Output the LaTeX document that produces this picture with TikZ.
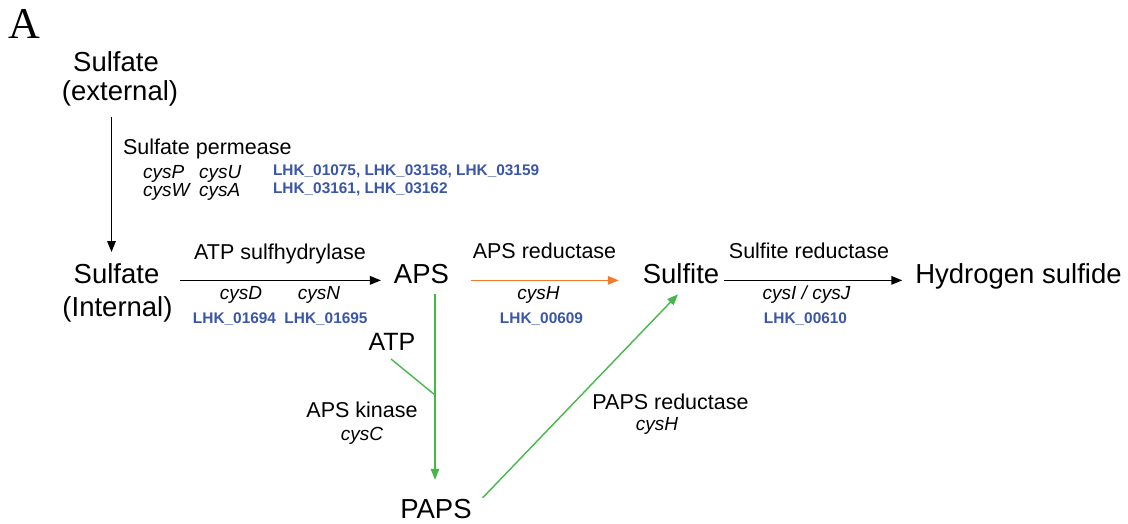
\documentclass[tikz,border=0pt]{standalone}
\usepackage{fontspec}
\setmainfont{Liberation Sans}
\newfontfamily\serifA{Liberation Serif}
\usetikzlibrary{arrows.meta,calc}
\definecolor{lhkblue}{HTML}{3A56A8}
\definecolor{pgreen}{HTML}{45B84A}
\definecolor{porange}{HTML}{F37A2A}
\tikzset{
  every node/.style={inner sep=0pt, outer sep=0pt},
  big/.style={font=\fontsize{27.5}{30}\selectfont, anchor=base},
  mid/.style={font=\fontsize{25}{28}\selectfont, anchor=base},
  enz/.style={font=\fontsize{21.5}{24}\selectfont, anchor=base},
  gene/.style={font=\fontsize{19}{22}\selectfont\itshape, anchor=base},
  lhk/.style={font=\fontsize{15.4}{18}\selectfont\bfseries, text=lhkblue, anchor=base},
  tip/.style={-{Triangle[length=11pt,width=8.5pt]}},
  blackarr/.style={tip, line width=1.5pt, draw=black},
  greenarr/.style={tip, line width=1.4pt, draw=pgreen, fill=pgreen},
  orangearr/.style={tip, line width=1.5pt, draw=porange, fill=porange}
}
\begin{document}
\begin{tikzpicture}[x=1pt,y=-1pt]
\useasboundingbox (0,0) rectangle (1128,523);
% panel letter
\node[anchor=base west, font=\fontsize{44}{48}\selectfont\serifA] (lbl) at (9,38.5) {A};
% metabolites
\node[big] (sext) at (116,71.5) {Sulfate};
\node[big] (sextb) at (120,100) {(external)};
\node[big] (sint) at (116.5,283) {Sulfate};
\node[big] (sintb) at (117.5,316.5) {(Internal)};
\node[big] (aps) at (421.5,283) {APS};
\node[big] (sulfite) at (681,283) {Sulfite};
\node[big] (h2s) at (1018.5,283) {Hydrogen sulfide};
\node[mid] (atp) at (392,350) {ATP};
\node[big] (paps) at (436,518) {PAPS};
% enzymes
\node[enz, anchor=base west] (perm) at (123,154) {Sulfate permease};
\node[gene, anchor=base west] (cysP) at (143,178) {cysP};
\node[gene, anchor=base west] (cysU) at (199,178) {cysU};
\node[gene, anchor=base west] (cysW) at (143,196) {cysW};
\node[gene, anchor=base west] (cysA) at (199,196) {cysA};
\node[lhk, anchor=base west] (lhkA) at (273,175) {LHK\_01075, LHK\_03158, LHK\_03159};
\node[lhk, anchor=base west] (lhkB) at (273,193) {LHK\_03161, LHK\_03162};

\node[enz] (atps) at (280,259) {ATP sulfhydrylase};
\node[gene] (cysD) at (241,299) {cysD};
\node[gene] (cysN) at (319,299) {cysN};
\node[lhk] (lhkD) at (234.5,323) {LHK\_01694};
\node[lhk] (lhkN) at (326,323) {LHK\_01695};

\node[enz] (apsr) at (544.5,258) {APS reductase};
\node[gene] (cysH) at (538.5,299) {cysH};
\node[lhk] (lhkH) at (541.5,323) {LHK\_00609};

\node[enz] (sulfr) at (809,258) {Sulfite reductase};
\node[gene] (cysIJ) at (806.5,299) {cysI / cysJ};
\node[lhk] (lhkIJ) at (805.5,323) {LHK\_00610};

\node[enz] (apsk) at (362,417) {APS kinase};
\node[gene] (cysC) at (362,440) {cysC};

\node[enz] (papsr) at (670.5,409) {PAPS reductase};
\node[gene] (cysH2) at (657,430) {cysH};

% connectors
\draw[blackarr] ([xshift=-8.5pt,yshift=-11pt]sextb.south) -- ([xshift=-5pt,yshift=11pt]sint.north);
\draw[blackarr] ([xshift=20.7pt]sint.mid east) -- ([xshift=-13pt]aps.mid west);
\draw[orangearr] ([xshift=22pt]aps.mid east) -- ([xshift=-24pt]sulfite.mid west);
\draw[blackarr] ([xshift=5pt]sulfite.mid east) -- ([xshift=-13pt]h2s.mid west);
\draw[greenarr] ([xshift=13.5pt,yshift=-11pt]aps.south) -- ([xshift=-1pt,yshift=19pt]paps.north);
\coordinate (kin) at (435,395);
\draw[pgreen, line width=1.4pt] ([xshift=-1pt,yshift=-9pt]atp.south) -- (kin);
\draw[greenarr] ([xshift=11pt,yshift=1pt]paps.north east) -- ([xshift=-3pt,yshift=-11pt]sulfite.south);
\end{tikzpicture}
\end{document}
